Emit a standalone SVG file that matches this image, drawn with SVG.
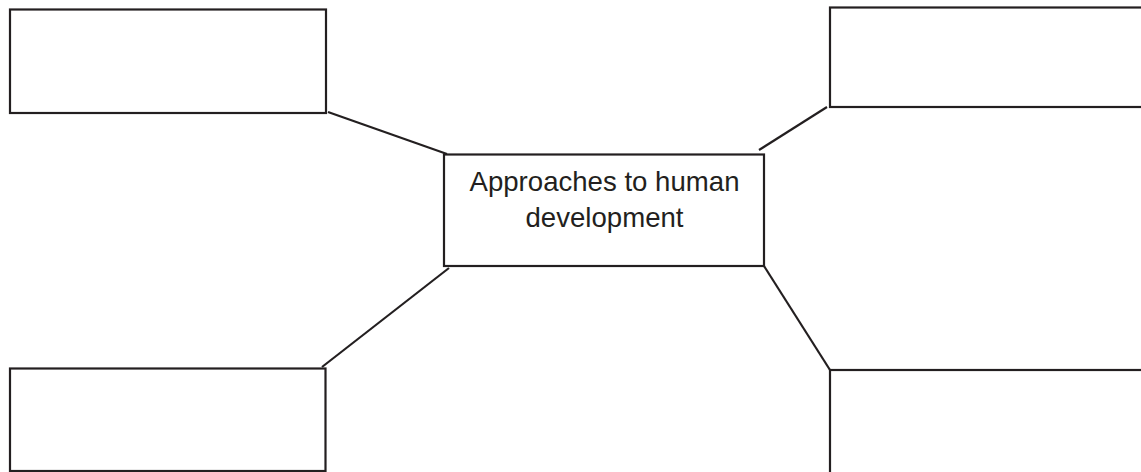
<svg xmlns="http://www.w3.org/2000/svg" width="1141" height="472" viewBox="0 0 1141 472">
<style>
.box{fill:#fff;stroke:#231f20;stroke-width:2.2}
.con{stroke:#231f20;stroke-width:2.2;fill:none}
.lbl{font-family:"Liberation Sans",Arial,sans-serif;font-size:27.6px;fill:#231f20;text-anchor:middle}
</style>
<rect width="1141" height="472" fill="#fff"/>
<g id="connectors">
<line class="con" x1="328" y1="112" x2="447" y2="154"/>
<line class="con" x1="759" y1="150" x2="827" y2="107"/>
<line class="con" x1="449" y1="268" x2="322" y2="367"/>
<line class="con" x1="764" y1="266" x2="830" y2="370"/>
</g>
<g id="node-top-left"><rect class="box" x="10" y="9.5" width="316" height="103.5"/></g>
<g id="node-top-right"><rect class="box" x="830" y="7.5" width="320" height="99.5"/></g>
<g id="node-bottom-left"><rect class="box" x="10" y="368.5" width="315.5" height="102.5"/></g>
<g id="node-bottom-right"><rect class="box" x="830" y="370" width="320" height="120"/></g>
<g id="node-center">
<rect class="box" x="444" y="154.5" width="320" height="111.5"/>
<text class="lbl" x="604.5" y="190.5">Approaches to human</text>
<text class="lbl" x="604.5" y="227">development</text>
</g>
</svg>
